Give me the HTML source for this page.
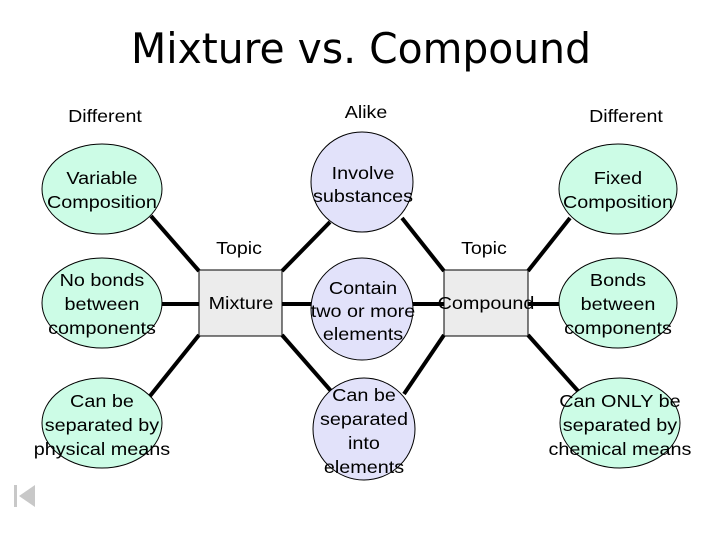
<!DOCTYPE html>
<html><head><style>body{margin:0;background:#fff}</style></head><body>
<svg width="720" height="540" xmlns="http://www.w3.org/2000/svg" font-family="Liberation Sans, Arial, sans-serif">
<rect width="720" height="540" fill="#fff"/>
<text x="361" y="63" font-size="42" text-anchor="middle" font-family="DejaVu Sans, sans-serif" textLength="460" lengthAdjust="spacingAndGlyphs">Mixture  vs. Compound</text>
<g font-size="18" text-anchor="middle" transform="scale(1.09,1)">
<text x="96.3" y="122">Different</text>
<text x="335.8" y="118">Alike</text>
<text x="574.3" y="122">Different</text>
<text x="219.3" y="254">Topic</text>
<text x="444" y="254">Topic</text>
</g>
<g stroke="#000" stroke-width="4">
<line x1="151" y1="216" x2="199" y2="271"/>
<line x1="282" y1="271" x2="330" y2="222"/>
<line x1="162" y1="304" x2="199" y2="304"/>
<line x1="282" y1="304" x2="312" y2="304"/>
<line x1="199" y1="335" x2="150" y2="396"/>
<line x1="282" y1="335" x2="331" y2="391"/>
<line x1="402" y1="218" x2="444" y2="271"/>
<line x1="528" y1="271" x2="570" y2="218"/>
<line x1="413" y1="304" x2="444" y2="304"/>
<line x1="528" y1="304" x2="559" y2="304"/>
<line x1="444" y1="335" x2="404" y2="394"/>
<line x1="528" y1="335" x2="578" y2="391"/>
</g>
<g stroke="#000" stroke-width="1">
<rect x="199" y="270" width="83" height="66" fill="#ececec"/>
<rect x="444" y="270" width="84" height="66" fill="#ececec"/>
<ellipse cx="102" cy="189" rx="60" ry="45" fill="#ccfce6"/>
<ellipse cx="102" cy="303" rx="60" ry="45" fill="#ccfce6"/>
<ellipse cx="102" cy="423" rx="60" ry="45" fill="#ccfce6"/>
<ellipse cx="618" cy="189" rx="59" ry="45" fill="#ccfce6"/>
<ellipse cx="618" cy="303" rx="59" ry="45" fill="#ccfce6"/>
<ellipse cx="620" cy="423" rx="60" ry="45" fill="#ccfce6"/>
<ellipse cx="362" cy="182" rx="51" ry="50" fill="#e2e2fa"/>
<ellipse cx="362" cy="309" rx="51" ry="51" fill="#e2e2fa"/>
<ellipse cx="364" cy="429" rx="51" ry="51" fill="#e2e2fa"/>
</g>
<g font-size="18" text-anchor="middle" transform="scale(1.1,1)">
<text x="92.7" y="184">Variable</text><text x="92.7" y="208">Composition</text>
<text x="92.7" y="286">No bonds</text><text x="92.7" y="310">between</text><text x="92.7" y="334">components</text>
<text x="92.7" y="407">Can be</text><text x="92.7" y="431">separated by</text><text x="92.7" y="455">physical means</text>
<text x="561.8" y="184">Fixed</text><text x="561.8" y="208">Composition</text>
<text x="561.8" y="286">Bonds</text><text x="561.8" y="310">between</text><text x="561.8" y="334">components</text>
<text x="563.6" y="407">Can ONLY be</text><text x="563.6" y="431">separated by</text><text x="563.6" y="455">chemical means</text>
<text x="330" y="179">Involve</text><text x="330" y="202">substances</text>
<text x="330" y="294">Contain</text><text x="330" y="317">two or more</text><text x="330" y="340">elements</text>
<text x="330.9" y="401">Can be</text><text x="330.9" y="425">separated</text><text x="330.9" y="449">into</text><text x="330.9" y="473">elements</text>
<text x="219.1" y="309">Mixture</text>
<text x="441.8" y="309">Compound</text>
</g>
<rect x="14" y="485" width="3" height="22" fill="#c8c8c8"/>
<polygon points="35,485 35,507 19,496" fill="#c8c8c8"/>
</svg>
</body></html>
